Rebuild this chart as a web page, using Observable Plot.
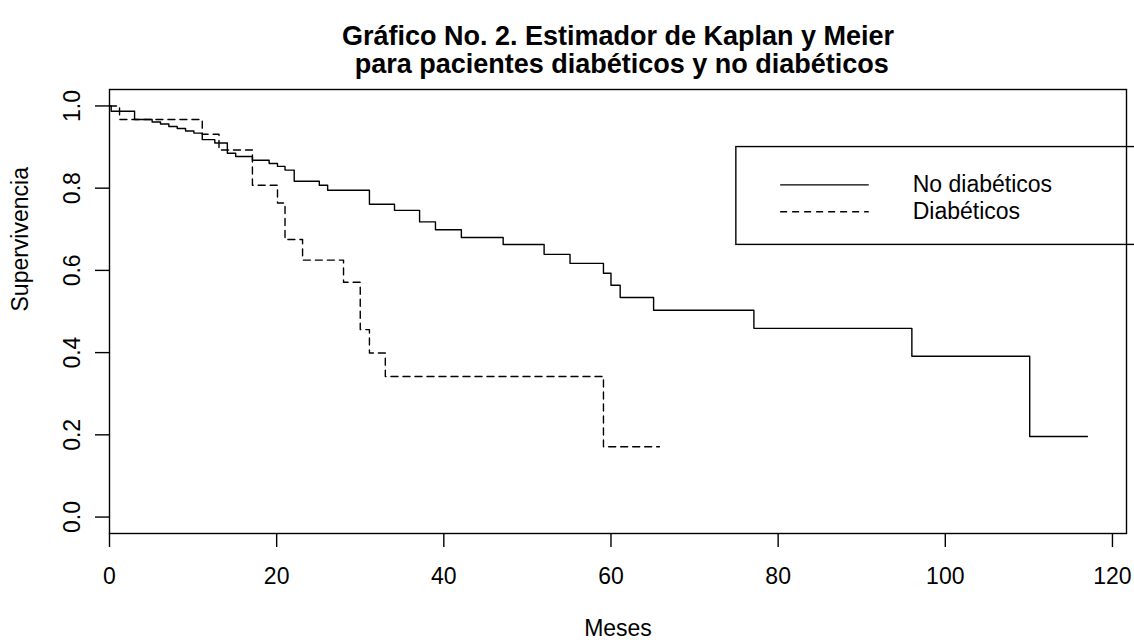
<!DOCTYPE html>
<html>
<head>
<meta charset="utf-8">
<script src="https://cdn.jsdelivr.net/npm/d3@7"></script>
<script src="https://cdn.jsdelivr.net/npm/@observablehq/plot@0.6"></script>
<style>
  html, body { margin: 0; padding: 0; background: #fff; overflow: hidden; width: 1134px; height: 640px; }
  #chart svg { display: block; }
</style>
</head>
<body>
<div id="chart"></div>
<script>
// ---------------- data ----------------
const titleLines = ["Gráfico No. 2. Estimador de Kaplan y Meier", "\u00a0para pacientes diabéticos y no diabéticos"];
const xLabel = "Meses";
const yLabel = "Supervivencia";
const xTicks = [0, 20, 40, 60, 80, 100, 120];
const yTicks = [0.0, 0.2, 0.4, 0.6, 0.8, 1.0];
const seriesNames = ["No diabéticos", "Diabéticos"];

// No diabéticos (solid)
const noDiabTimes = [0, 0.2, 3.0, 5.1, 6.1, 7.1, 8.1, 9.1, 10.1, 11.1, 12.6, 14.1, 15.1, 17.1, 19.1, 20.1, 21.0, 22.1, 25.1, 26.1, 31.1, 34.1, 37.1, 39.0, 42.1, 47.1, 52.0, 55.1, 59.1, 60.0, 61.1, 65.1, 77.1, 96.0, 110.1, 117.0];
const noDiabSurv  = [1.0, 0.987, 0.967, 0.961, 0.956, 0.950, 0.945, 0.939, 0.934, 0.918, 0.910, 0.885, 0.877, 0.868, 0.860, 0.853, 0.844, 0.817, 0.807, 0.795, 0.761, 0.746, 0.718, 0.699, 0.680, 0.663, 0.639, 0.617, 0.593, 0.564, 0.534, 0.503, 0.459, 0.391, 0.196, 0.196];

// Diabéticos (dashed)
const diabTimes = [0, 1.2, 11.1, 13.1, 17.1, 20.1, 21.0, 23.1, 28.0, 30.0, 31.1, 33.0, 59.1, 65.8];
const diabSurv  = [1.0, 0.967, 0.931, 0.893, 0.807, 0.764, 0.675, 0.625, 0.571, 0.456, 0.399, 0.342, 0.171, 0.171];

// ---------------- layout (R-style legend anchored in data units) ----------------
const xDomain = [0, 117 * 1.04];
const yDomain = [-0.04, 1.04];
const legendLeft = 75, legendRight = 126, legendTop = 0.9, legendBottom = 0.662;
const legendSegX = [80.3, 90.9];
const legendTextX = 96.1;
const legendRowY = [0.808, 0.7425];
const dashPattern = "7,5";

// ---------------- build ----------------
const toRows = (times, surv, name) => times.map((t, i) => ({time: t, surv: surv[i], series: name}));
const noDiab = toRows(noDiabTimes, noDiabSurv, seriesNames[0]);
const diab = toRows(diabTimes, diabSurv, seriesNames[1]);
const legendItems = seriesNames.map((name, i) => ({name, y: legendRowY[i]}));

const font = "'Liberation Sans', Arial, Helvetica, sans-serif";
const ink = "#000";
const lw = 1.4;

const chart = Plot.plot({
  width: 1134,
  height: 640,
  marginLeft: 109,
  marginRight: 8,
  marginTop: 89,
  marginBottom: 107,
  x: {domain: xDomain},
  y: {domain: yDomain},
  style: {fontFamily: font, fontSize: "23px", color: ink, background: "#fff"},
  marks: [
    Plot.frame({stroke: ink, strokeWidth: lw}),
    // axes
    Plot.axisX({ticks: xTicks, tickSize: 14, tickPadding: 20, tickFormat: d => String(d), label: null, fontSize: 23, strokeWidth: lw}),
    Plot.axisY({ticks: yTicks, tickSize: 14, tickFormat: () => "", label: null, strokeWidth: lw}),
    Plot.text(yTicks, {y: d => d, text: d => d.toFixed(1), frameAnchor: "left", dx: -37.3, rotate: -90, textAnchor: "middle", lineAnchor: "middle", fontSize: 23, fill: ink}),
    // axis titles
    Plot.text([xLabel], {frameAnchor: "bottom", dy: 95, lineAnchor: "middle", fontSize: 23, fill: ink}),
    Plot.text([yLabel], {frameAnchor: "left", dx: -89, rotate: -90, lineAnchor: "middle", fontSize: 23, fill: ink}),
    // title (two lines)
    Plot.text([titleLines[0]], {frameAnchor: "top", dy: -53, lineAnchor: "middle", fontSize: 27, fontWeight: "bold", fill: ink}),
    Plot.text([titleLines[1]], {frameAnchor: "top", dy: -25, lineAnchor: "middle", fontSize: 27, fontWeight: "bold", fill: ink}),
    // survival curves
    Plot.lineY(noDiab, {x: "time", y: "surv", curve: "step-after", stroke: ink, strokeWidth: lw}),
    Plot.lineY(diab, {x: "time", y: "surv", curve: "step-after", stroke: ink, strokeWidth: lw, strokeDasharray: dashPattern}),
    // legend
    Plot.rect([{x1: legendLeft, x2: legendRight, y1: legendBottom, y2: legendTop}], {x1: "x1", x2: "x2", y1: "y1", y2: "y2", fill: "none", stroke: ink, strokeWidth: lw}),
    Plot.ruleY([legendItems[0]], {y: "y", x1: legendSegX[0], x2: legendSegX[1], stroke: ink, strokeWidth: lw}),
    Plot.ruleY([legendItems[1]], {y: "y", x1: legendSegX[0], x2: legendSegX[1], stroke: ink, strokeWidth: lw, strokeDasharray: dashPattern}),
    Plot.text(legendItems, {x: legendTextX, y: "y", text: "name", textAnchor: "start", lineAnchor: "middle", fontSize: 23, fill: ink})
  ]
});
document.getElementById("chart").appendChild(chart);
</script>
</body>
</html>
